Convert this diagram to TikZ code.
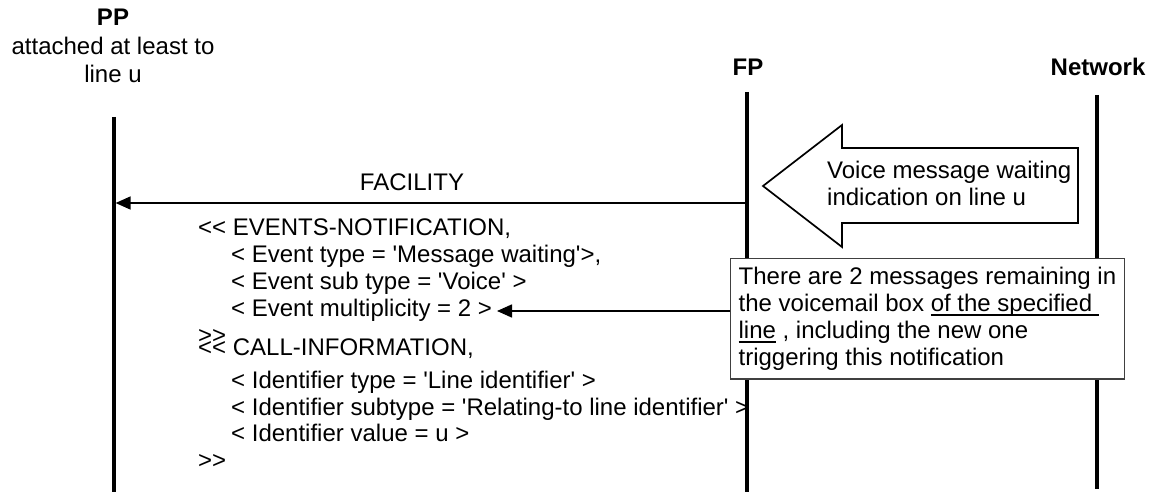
\documentclass[tikz,border=0pt]{standalone}
\usepackage{fontspec}
\setmainfont{Liberation Sans}
\usetikzlibrary{arrows.meta}
\newcommand\LLq{\mbox{<}\mbox{<}}
\newcommand\GGq{\mbox{>}\mbox{>}}
\newcommand\sq{\textquotesingle}
\newcommand\myuline[1]{\leavevmode\hbox{\setbox0\hbox{#1}\rlap{\rule[-4pt]{\wd0}{1.5pt}}\box0}}
\begin{document}
\begin{tikzpicture}[x=1pt,y=-1pt,
  every node/.style={font=\fontsize{24}{27}\selectfont, inner sep=0pt},
  txt/.style={anchor=base west},
  hdr/.style={anchor=base, font=\fontsize{24}{27}\selectfont\bfseries},
  life/.style={line width=3.2pt},
  msg/.style={line width=1.6pt, -{Triangle[length=15pt,width=13pt]}},
  notebox/.style={draw=black!75, line width=1.3pt, fill=white, anchor=north west,
    align=left, inner xsep=8pt, inner ysep=8.5pt},
  bigarrow/.style={draw, line width=1.7pt, fill=white, line join=miter}]
\fill[white] (0,0) rectangle (1150,492);
\useasboundingbox (0,0) rectangle (1150,492);

% headers
\node[hdr] (ppname) at (113,26) {PP};
\node[anchor=base] (ppdesc1) at (113,55) {attached at least to};
\node[anchor=base] (ppdesc2) at (113,83) {line u};
\node[hdr] (fpname) at (748,76) {FP};
\node[hdr] (netname) at (1098,76) {Network};

% lifelines
\coordinate (ppT) at (114,117); \coordinate (ppB) at (114,492);
\coordinate (fpT) at (747,92);  \coordinate (fpB) at (747,492);
\coordinate (nwT) at (1097,95); \coordinate (nwB) at (1097,489);
\draw[life] (ppT) -- (ppB);
\draw[life] (fpT) -- (fpB);
\draw[life] (nwT) -- (nwB);

% big arrow from network
\draw[bigarrow] (763,186) -- (842,125) -- (842,148) -- (1078,148) -- (1078,223)
  -- (842,223) -- (842,247) -- cycle;
\node[txt] (voice1) at (827,178) {Voice message waiting};
\node[txt] (voice2) at (827,205) {indication on line u};

% FACILITY message
\coordinate (facS) at (745.4,203);
\coordinate (facE) at (115.6,203);
\draw[msg] (facS) -- (facE);
\node[anchor=base] (faclbl) at (412,190) {FACILITY};

% message contents
\node[txt] (ev0) at (198,235) {\LLq{} EVENTS-NOTIFICATION,};
\node[txt] (ev1) at (231,262) {< Event type = \sq Message waiting\sq>,};
\node[txt] (ev2) at (231,289) {< Event sub type = \sq Voice\sq{} >};
\node[txt] (ev3) at (231,316) {< Event multiplicity = 2 >};
\node[txt] (ev4) at (198,343) {\GGq};
\node[txt] (ci0) at (198,355) {\LLq{} CALL-INFORMATION,};
\node[txt] (ci1) at (231,388) {< Identifier type = \sq Line identifier\sq{} >};
\node[txt] (ci2) at (231,415) {< Identifier subtype = \sq Relating-to line identifier\sq{} >};
\node[txt] (ci3) at (231,441) {< Identifier value = u >};
\node[txt] (ci4) at (198,468) {\GGq};

% note box
\node[notebox] (note) at (730,258) {There are 2 messages remaining in\\
  the voicemail box \myuline{of the specified\ }\\
  \myuline{line} , including the new one\\
  triggering this notification};
\coordinate (multEnd) at (497,311);
\draw[msg] (note.west |- multEnd) -- (multEnd);
\end{tikzpicture}
\end{document}
